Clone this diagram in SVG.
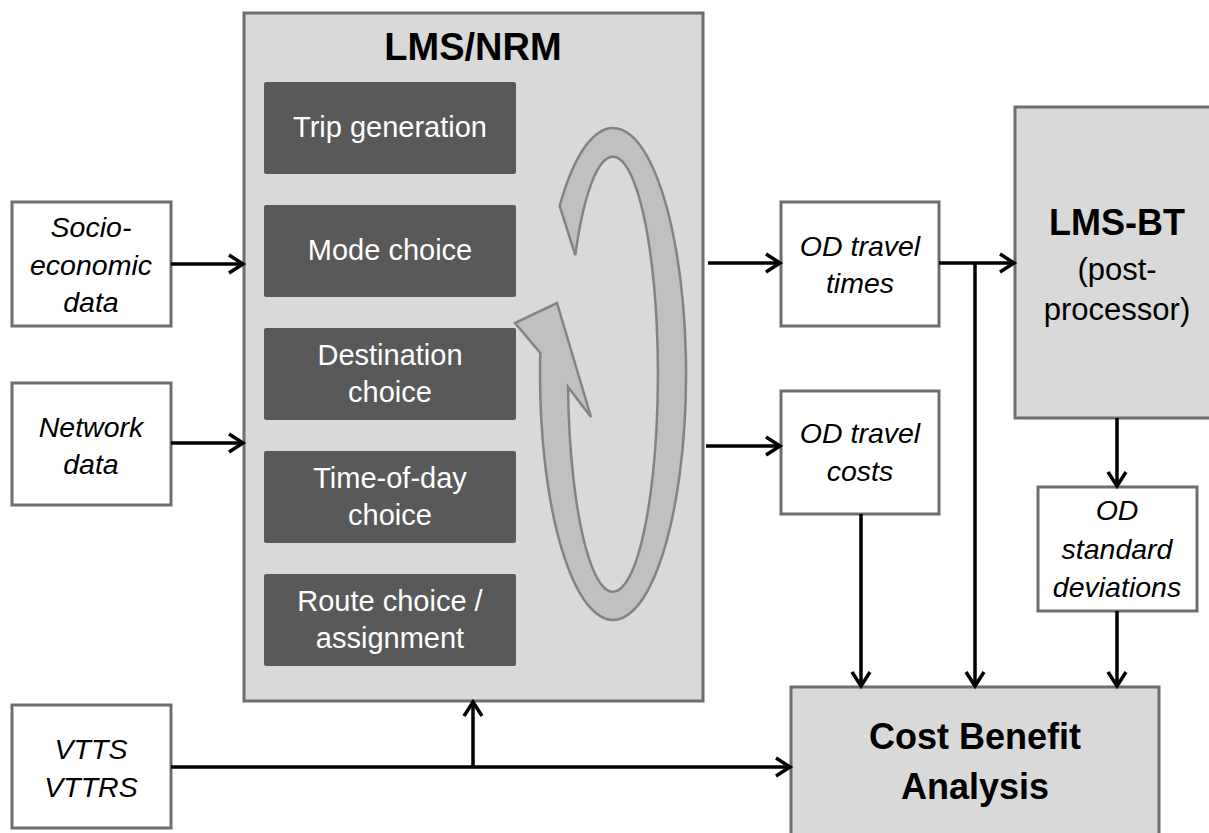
<svg xmlns="http://www.w3.org/2000/svg" width="1209" height="833" viewBox="0 0 1209 833">
<defs>
<style>
.box{fill:#ffffff;stroke:#6e6e6e;stroke-width:3}
.gbox{fill:#d9d9d9;stroke:#6e6e6e;stroke-width:3}
.dbox{fill:#595959}
.it{font-family:"Liberation Sans",Arial,sans-serif;font-style:italic;font-size:28.5px;fill:#000;text-anchor:middle}
.wt{font-family:"Liberation Sans",Arial,sans-serif;font-size:29px;fill:#fff;text-anchor:middle}
.bt{font-family:"Liberation Sans",Arial,sans-serif;font-weight:bold;fill:#000;text-anchor:middle}
.rt{font-family:"Liberation Sans",Arial,sans-serif;font-size:31px;fill:#000;text-anchor:middle}
.con{fill:none;stroke:#000;stroke-width:3.5}
</style>
<marker id="arr" markerUnits="userSpaceOnUse" viewBox="-17 -12 21 24" refX="0" refY="0" markerWidth="21" markerHeight="24" orient="auto">
<path d="M-14,-9 L0,0 L-14,9" fill="none" stroke="#000" stroke-width="3.5"/>
</marker>
</defs>

<g id="lms-nrm">
<rect class="gbox" x="244" y="13" width="459" height="688"/>
<text class="bt" x="473" y="60" font-size="38">LMS/NRM</text>
</g>

<g id="trip-generation">
<rect class="dbox" x="264" y="82" width="252" height="92" rx="2"/>
<text class="wt" x="390" y="137">Trip generation</text>
</g>
<g id="mode-choice">
<rect class="dbox" x="264" y="205" width="252" height="92" rx="2"/>
<text class="wt" x="390" y="260">Mode choice</text>
</g>
<g id="destination-choice">
<rect class="dbox" x="264" y="328" width="252" height="92" rx="2"/>
<text class="wt" x="390" y="365">Destination</text>
<text class="wt" x="390" y="402">choice</text>
</g>
<g id="time-of-day-choice">
<rect class="dbox" x="264" y="451" width="252" height="92" rx="2"/>
<text class="wt" x="390" y="488">Time-of-day</text>
<text class="wt" x="390" y="525">choice</text>
</g>
<g id="route-choice">
<rect class="dbox" x="264" y="574" width="252" height="92" rx="2"/>
<text class="wt" x="390" y="611">Route choice /</text>
<text class="wt" x="390" y="648">assignment</text>
</g>

<g id="loop-arrow">
<path d="M559.7,206 A73,246 0 1 1 540.3,353 L515,323 L557,303 L591,417 L568,387 A45,217.5 0 1 0 575.3,255 Z" fill="#c0c0c0" stroke="#838383" stroke-width="2.5" stroke-linejoin="miter"/>
</g>

<g id="socio-economic-data">
<rect class="box" x="12" y="202" width="159" height="124"/>
<text class="it" x="91" y="237">Socio-</text>
<text class="it" x="91" y="275">economic</text>
<text class="it" x="91" y="312">data</text>
</g>
<g id="network-data">
<rect class="box" x="12" y="383" width="159" height="122"/>
<text class="it" x="91" y="437">Network</text>
<text class="it" x="91" y="474">data</text>
</g>
<g id="vtts">
<rect class="box" x="12" y="705" width="159" height="123"/>
<text class="it" x="91" y="759">VTTS</text>
<text class="it" x="91" y="797">VTTRS</text>
</g>

<g id="od-travel-times">
<rect class="box" x="781" y="202" width="158" height="124"/>
<text class="it" x="860" y="256">OD travel</text>
<text class="it" x="860" y="293">times</text>
</g>
<g id="od-travel-costs">
<rect class="box" x="781" y="391" width="158" height="123"/>
<text class="it" x="860" y="443">OD travel</text>
<text class="it" x="860" y="481">costs</text>
</g>

<g id="lms-bt">
<rect class="gbox" x="1015" y="107" width="200" height="311"/>
<text class="bt" x="1117" y="235" font-size="36">LMS-BT</text>
<text class="rt" x="1117" y="280">(post-</text>
<text class="rt" x="1117" y="320">processor)</text>
</g>

<g id="od-standard-deviations">
<rect class="box" x="1038" y="487" width="159" height="124"/>
<text class="it" x="1117" y="520">OD</text>
<text class="it" x="1117" y="559">standard</text>
<text class="it" x="1117" y="597">deviations</text>
</g>

<g id="cost-benefit-analysis">
<rect class="gbox" x="791" y="687" width="368" height="160"/>
<text class="bt" x="975" y="749" font-size="36">Cost Benefit</text>
<text class="bt" x="975" y="799" font-size="36">Analysis</text>
</g>

<g id="connectors">
<path class="con" d="M171,264 L243,264" marker-end="url(#arr)"/>
<path class="con" d="M171,443 L243,443" marker-end="url(#arr)"/>
<path class="con" d="M708,263 L780,263" marker-end="url(#arr)"/>
<path class="con" d="M706,446 L780,446" marker-end="url(#arr)"/>
<path class="con" d="M939,263 L1014,263" marker-end="url(#arr)"/>
<path class="con" d="M975,263 L975,686" marker-end="url(#arr)"/>
<path class="con" d="M861,514 L861,686" marker-end="url(#arr)"/>
<path class="con" d="M1117,418 L1117,486" marker-end="url(#arr)"/>
<path class="con" d="M1117,611 L1117,686" marker-end="url(#arr)"/>
<path class="con" d="M171,767 L790,767" marker-end="url(#arr)"/>
<path class="con" d="M473,767 L473,702" marker-end="url(#arr)"/>
</g>
</svg>
